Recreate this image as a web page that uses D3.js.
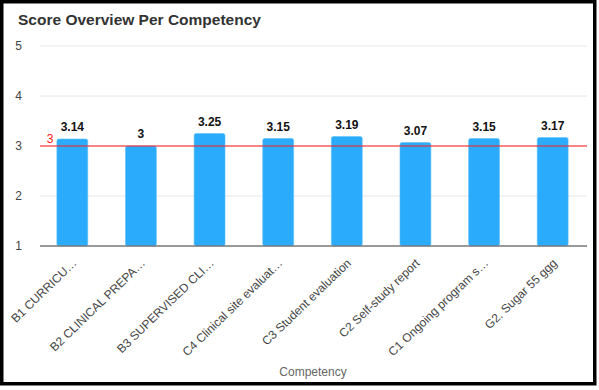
<!DOCTYPE html>
<html>
<head>
<meta charset="utf-8">
<script src="https://cdn.jsdelivr.net/npm/d3@7"></script>
<style>
  body { margin: 0; background: #fff; }
  text { font-family: Arial, "Liberation Sans", sans-serif; }
</style>
</head>
<body>
<div id="chart"></div>
<script>
// data
const categories = [
  "B1 CURRICU…",
  "B2 CLINICAL PREPA…",
  "B3 SUPERVISED CLI…",
  "C4 Clinical site evaluat…",
  "C3 Student evaluation",
  "C2 Self-study report",
  "C1 Ongoing program s…",
  "G2. Sugar 55 ggg"
];
const scores = [3.14, 3, 3.25, 3.15, 3.19, 3.07, 3.15, 3.17];
const valueLabels = ["3.14", "3", "3.25", "3.15", "3.19", "3.07", "3.15", "3.17"];
const yTicks = [1, 2, 3, 4, 5];
const target = 3;

const width = 599, height = 390;
const svg = d3.select("#chart").append("svg")
  .attr("width", width).attr("height", height);

// frame
svg.append("rect")
  .attr("x", 1.75).attr("y", 1.75)
  .attr("width", 593).attr("height", 382)
  .attr("fill", "#fff")
  .attr("stroke", "#000").attr("stroke-width", 3.5);

svg.append("text")
  .attr("x", 18).attr("y", 25)
  .attr("font-size", 15.5).attr("font-weight", "bold")
  .attr("fill", "#333")
  .text("Score Overview Per Competency");

let x = d3.scaleBand().domain(categories).range([38, 587]).paddingInner(0.55).paddingOuter(0.275);
let y = d3.scaleLinear().domain([1, 5]).range([246, 46]);

// grid
svg.append("g").selectAll("line").data(yTicks.filter(d => d > 1)).join("line")
  .attr("x1", 40).attr("x2", 587)
  .attr("y1", d => y(d)).attr("y2", d => y(d))
  .attr("stroke", "#e6e6e6").attr("stroke-width", 1);

svg.append("g").selectAll("text").data(yTicks).join("text")
  .attr("x", 22).attr("y", d => y(d) + 4)
  .attr("text-anchor", "end")
  .attr("font-size", 12).attr("fill", "#444")
  .text(d => d);

// bars
svg.append("g").selectAll("rect").data(scores).join("rect")
  .attr("x", (d, i) => x(categories[i]))
  .attr("y", d => y(d))
  .attr("width", x.bandwidth())
  .attr("height", d => y(1) - y(d))
  .attr("rx", 2)
  .attr("fill", "#2aabfb")
  .attr("stroke", "#5cc0fc").attr("stroke-width", 0.6);

// baseline
svg.append("line")
  .attr("x1", 40).attr("x2", 587)
  .attr("y1", y(1)).attr("y2", y(1))
  .attr("stroke", "#777").attr("stroke-width", 1.5);

// target line
svg.append("line")
  .attr("x1", 40).attr("x2", 587)
  .attr("y1", y(target)).attr("y2", y(target))
  .attr("stroke", "#ff1a1a").attr("stroke-width", 1.2);
svg.append("text")
  .attr("x", 50).attr("y", y(target) - 3)
  .attr("text-anchor", "middle")
  .attr("font-size", 12).attr("fill", "#ff1a1a")
  .text(target);

// value labels
svg.append("g").selectAll("text").data(scores).join("text")
  .attr("x", (d, i) => x(categories[i]) + x.bandwidth() / 2)
  .attr("y", d => y(d) - 8)
  .attr("text-anchor", "middle")
  .attr("font-size", 12).attr("font-weight", "bold").attr("fill", "#111")
  .text((d, i) => valueLabels[i]);

// x labels
svg.append("g").selectAll("text").data(categories).join("text")
  .attr("transform", d => `translate(${x(d) + x.bandwidth() / 2 + 5},${264}) rotate(-44)`)
  .attr("text-anchor", "end")
  .attr("font-size", 12).attr("fill", "#444")
  .text(d => d);

svg.append("text")
  .attr("x", 313).attr("y", 376)
  .attr("text-anchor", "middle")
  .attr("font-size", 12).attr("fill", "#666")
  .text("Competency");
</script>
</body>
</html>
